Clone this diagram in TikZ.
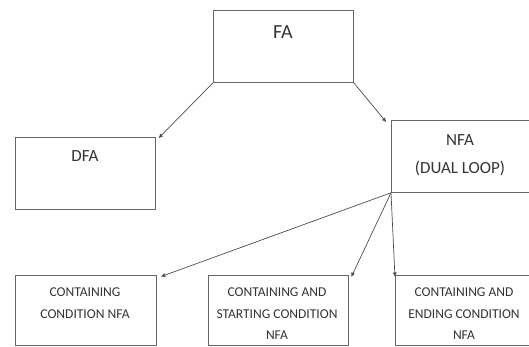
\documentclass[tikz,border=0pt]{standalone}
\usepackage{fontspec}
\setmainfont{Carlito}
\usetikzlibrary{arrows.meta,positioning}
\tikzset{
  box/.style={
    draw = black!60,
    line width = 0.8pt,
    shape = rectangle,
    anchor = north west,
    minimum width = 140pt,
    minimum height = 72pt,
    inner sep = 0pt
  },
  big/.style={
    anchor = base,
    align = center,
    text = black!80,
    inner sep = 0pt,
    font = \fontsize{20}{22}\selectfont
  },
  mid/.style={
    anchor = base,
    align = center,
    text = black!80,
    inner sep = 0pt,
    font = \fontsize{17}{28}\selectfont
  },
  small/.style={
    anchor = base,
    align = center,
    text = black!80,
    inner sep = 0pt,
    font = \fontsize{13.5}{21.5}\selectfont
  },
  link/.style={
    draw = black!70,
    line width = 0.7pt,
    -{Latex[length=4.5pt,width=4pt]},
    shorten > = 1pt
  }
}

\begin{document}
\begin{tikzpicture}[x=1pt,y=-1pt]
        \useasboundingbox (0,0) rectangle (529,347);
        \clip (0,0) rectangle (529,347);

        % boxes
        \node[box] (fa) at (213,10) {};
        \node[box] (dfa) at (15,137) {};
        \node[box] (nfa) at (391,120) {};
        \node[box, minimum width=141pt, minimum height=70pt] (cont) at (15,275) {};
        \node[box, minimum height=70pt] (start) at (208,275) {};
        \node[box, minimum height=70pt] (ending) at (395,275) {};

        % texts (anchored on the last line)
        \node[big] (faText) at (283,38.5) {FA};
        \node[mid] (dfaText) at (85,162) {DFA};
        \node[mid] (nfaText) at (460,174) {NFA\\(DUAL LOOP)};
        \node[small] (contText) at (85,318) {CONTAINING\\CONDITION NFA};
        \node[small] (startText) at (277,339.5) {CONTAINING AND\\STARTING CONDITION\\NFA};
        \node[small] (endText) at (464,339.5) {CONTAINING AND\\ENDING CONDITION\\NFA};

        % arrows
        \draw[link] (fa.south west) -- ([shift={(2pt,-2pt)}]dfa.north east);
        \draw[link] (fa.south east) -- ([shift={(-4pt,-3pt)}]nfa.north west);
        \draw[link] (nfa.south west) -- ([shift={(3pt,-2pt)}]cont.north east);
        \draw[link] (nfa.south west) -- ([shift={(2pt,-3pt)}]start.north east);
        \draw[link] (nfa.south west) -- ([shift={(0pt,-3pt)}]ending.north west);
    \end{tikzpicture}
\end{document}
